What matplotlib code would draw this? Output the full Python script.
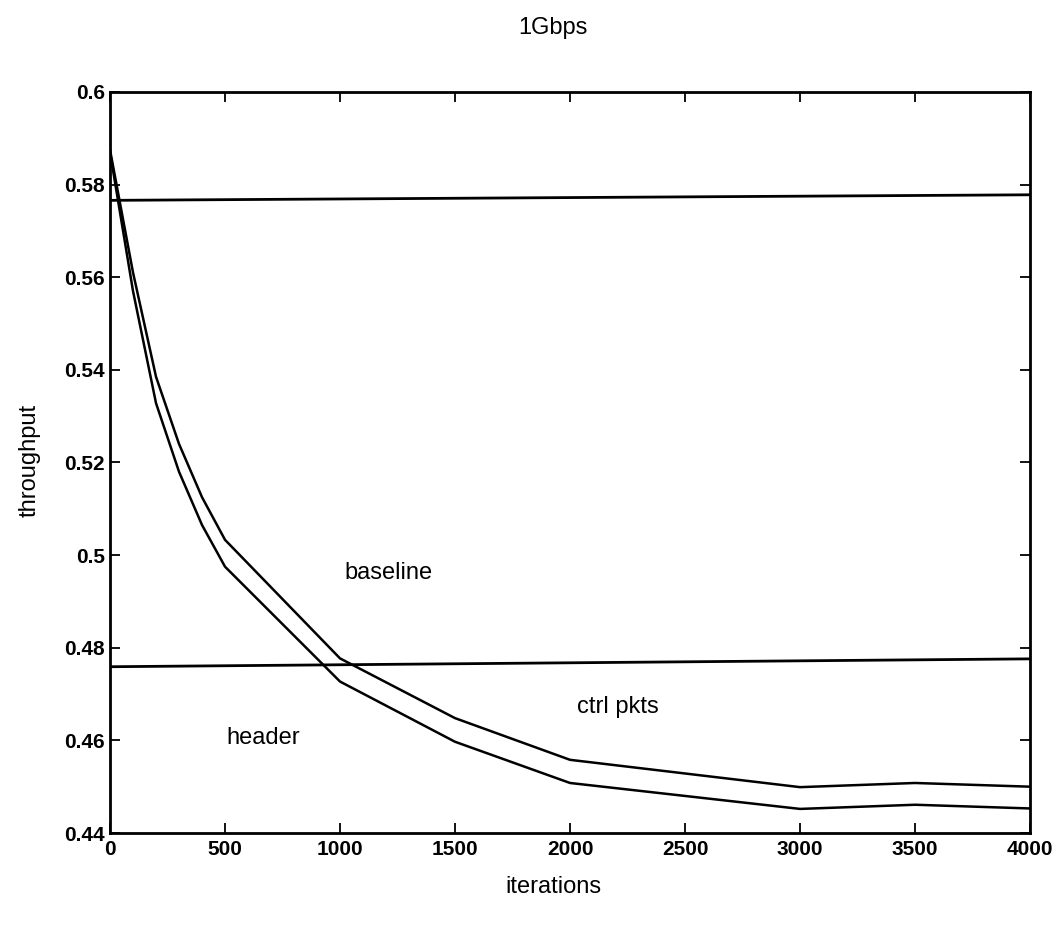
import numpy as np
import matplotlib
matplotlib.use("Agg")
import matplotlib.pyplot as plt

plt.rcParams['font.family'] = ['Liberation Sans', 'DejaVu Sans']

# iterations and throughput
iters = [0, 100, 200, 300, 400, 500, 1000, 1500, 2000, 3000, 3500, 4000]
upper = [0.5875, 0.5610, 0.5385, 0.5240, 0.5125, 0.5033, 0.4777, 0.4648, 0.4558, 0.4499, 0.4508, 0.4500]
lower = [0.5870, 0.5570, 0.5328, 0.5180, 0.5065, 0.4975, 0.4727, 0.4597, 0.4508, 0.4452, 0.4461, 0.4453]

# the two nearly flat reference lines
flat_x = [0, 4000]
top_line = [0.5766, 0.5778]
mid_line = [0.4759, 0.4776]

labels = ["baseline", "ctrl pkts", "header"]
label_x = [1212, 2210, 667]
label_y = [0.4962, 0.4672, 0.4605]

fig = plt.figure(figsize=(10.62, 9.3), dpi=100)
ax = fig.add_axes([0.1036, 0.1043, 0.8663, 0.7968])

ax.plot(iters, upper, color='black', lw=1.8)
ax.plot(iters, lower, color='black', lw=1.8)
ax.plot(flat_x, top_line, color='black', lw=2.0)
ax.plot(flat_x, mid_line, color='black', lw=2.0)

for txt, tx, ty in zip(labels, label_x, label_y):
    ax.text(tx, ty, txt, fontsize=17, ha='center', va='center')

ax.set_xlim(0, 4000)
ax.set_ylim(0.44, 0.6)
ax.set_xticks(np.arange(0, 4001, 500))
ax.set_yticks([0.44, 0.46, 0.48, 0.5, 0.52, 0.54, 0.56, 0.58, 0.6])
ax.set_yticklabels(['0.44', '0.46', '0.48', '0.5', '0.52', '0.54', '0.56', '0.58', '0.6'])
ax.tick_params(direction='in', top=True, right=True, length=7, width=1.3, labelsize=15)
ax.tick_params(axis='x', pad=5)
for lab in ax.get_xticklabels() + ax.get_yticklabels():
    lab.set_fontweight('bold')
for sp in ax.spines.values():
    sp.set_linewidth(2.0)

fig.text(0.521, 0.97, "1Gbps", fontsize=17, ha='center', va='center')
fig.text(0.521, 0.046, "iterations", fontsize=17, ha='center', va='center')
fig.text(0.028, 0.505, "throughput", fontsize=17, ha='center', va='center', rotation=90)

fig.savefig("out.png", dpi=100)
